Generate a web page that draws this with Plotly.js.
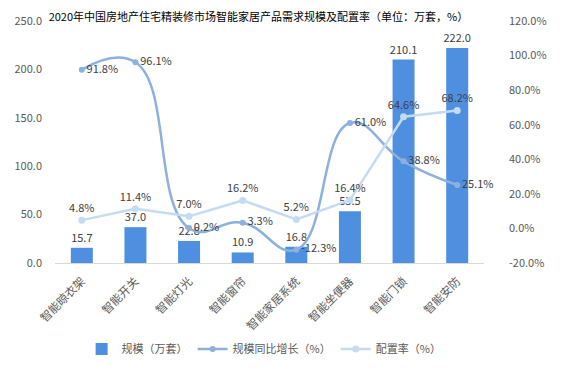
<!DOCTYPE html>
<html><head><meta charset="utf-8">
<script src="https://cdn.plot.ly/plotly-3.0.1.min.js"></script>
<style>html,body{margin:0;padding:0;background:#fff}#c{width:568px;height:370px}</style>
</head><body><div id="c"></div>
<script>
const categories = ['智能晾衣架','智能开关','智能灯光','智能窗帘','智能家居系统','智能坐便器','智能门锁','智能安防'];
const scale = [15.7, 37.0, 22.8, 10.9, 16.8, 53.5, 210.1, 222.0];
const growth = [91.8, 96.1, 0.2, 3.3, -12.3, 61.0, 38.8, 25.1];
const rate = [4.8, 11.4, 7.0, 16.2, 5.2, 16.4, 64.6, 68.2];
const leftTicks = [0, 50, 100, 150, 200, 250];
const rightTicks = [-20, 0, 20, 40, 60, 80, 100, 120];

const F = '"Noto Sans CJK SC", "Noto Sans", sans-serif';
const traces = [
  {type:'bar', name:'规模（万套）', x:categories, y:scale,
   marker:{color:'#4f8fe0'}, width:0.41,
   text:scale.map(v=>v.toFixed(1)), textposition:'outside', cliponaxis:false, constraintext:'none',
   textfont:{size:11,color:'#404040',family:F}},
  {type:'scatter', mode:'lines+markers+text', name:'规模同比增长（%）', x:categories, y:growth, yaxis:'y2',
   line:{color:'#8db0dc', width:2.5, shape:'spline', smoothing:1.3},
   marker:{color:'#8db0dc', size:6},
   text:growth.map(v=>v.toFixed(1)+'%'), textposition:'middle right', cliponaxis:false,
   textfont:{size:11,color:'#404040',family:F}},
  {type:'scatter', mode:'lines+markers+text', name:'配置率（%）', x:categories, y:rate, yaxis:'y2',
   line:{color:'#c5dbf2', width:2.5},
   marker:{color:'#c5dbf2', size:7},
   text:rate.map(v=>v.toFixed(1)+'%'), textposition:'top center', cliponaxis:false,
   textfont:{size:11,color:'#404040',family:F}}
];
const layout = {
  width:568, height:370,
  margin:{l:55, r:84, t:21, b:107},
  paper_bgcolor:'#fff', plot_bgcolor:'#fff',
  font:{family:F, size:11, color:'#595959'},
  title:{text:'2020年中国房地产住宅精装修市场智能家居产品需求规模及配置率（单位：万套，%）',
         font:{size:11, color:'#000', family:F}, xref:'container', x:0.455, xanchor:'center',
         yref:'container', y:0.955, yanchor:'middle', automargin:false},
  showlegend:true,
  legend:{orientation:'h', xref:'container', x:0.465, xanchor:'center',
          yref:'container', y:0.057, yanchor:'middle',
          font:{size:11,color:'#595959',family:F}},
  bargap:0.59,
  xaxis:{type:'category', tickangle:-45, showgrid:false, showline:true, linecolor:'#d9d9d9',
         ticks:'', automargin:false, ticklabelstandoff:6, tickfont:{size:11.5,color:'#595959',family:F}},
  yaxis:{range:[0,250], tickvals:leftTicks, ticktext:leftTicks.map(v=>v.toFixed(1)), automargin:false,
         showgrid:false, zeroline:false, showline:false, ticks:'', ticklabelstandoff:12},
  yaxis2:{range:[-20,120], overlaying:'y', side:'right', tickvals:rightTicks, automargin:false,
          ticktext:rightTicks.map(v=>v.toFixed(1)+'%'),
          showgrid:false, zeroline:false, showline:false, ticks:'', ticklabelstandoff:24}
};
Plotly.newPlot('c', traces, layout, {displayModeBar:false, staticPlot:true});
</script></body></html>
